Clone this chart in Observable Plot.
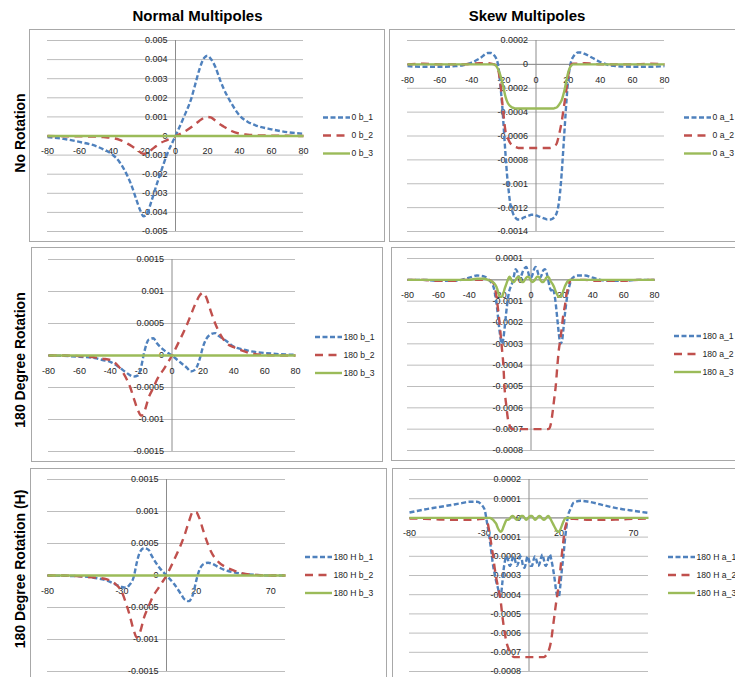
<!DOCTYPE html>
<html>
<head>
<meta charset="utf-8">
<script src="https://cdn.jsdelivr.net/npm/d3@7"></script>
<script src="https://cdn.jsdelivr.net/npm/@observablehq/plot@0.6"></script>
<style>
  html, body { margin: 0; padding: 0; background: #fff; }
  #root { position: relative; width: 735px; height: 677px; overflow: hidden; background: #fff;
          font-family: "Liberation Sans", Arial, sans-serif; }
  .panel { position: absolute; }
  .frame { position: absolute; border: 1px solid #a8a8a8; box-sizing: border-box; pointer-events: none; }
  .coltitle { position: absolute; font-weight: bold; font-size: 15px; white-space: nowrap;
              transform: translateX(-50%); color: #000; line-height: normal; }
  .rowtitle { position: absolute; font-weight: bold; font-size: 14px; white-space: nowrap; color: #000;
              transform: translate(-50%, -50%) rotate(-90deg); line-height: normal; }
</style>
</head>
<body>
<div id="root"></div>
<script>
// ---------- titles ----------
const columnTitles = ["Normal Multipoles", "Skew Multipoles"];
const rowTitles = ["No Rotation", "180 Degree Rotation", "180 Degree Rotation (H)"];

// ---------- tick labels ----------
const xTicksA = [-80, -60, -40, -20, 0, 20, 40, 60, 80];
const xTicksB = [-80, -30, 20, 70];
const yTicks1 = [0.005, 0.004, 0.003, 0.002, 0.001, 0, -0.001, -0.002, -0.003, -0.004, -0.005];
const yTicks2 = [0.0002, 0, -0.0002, -0.0004, -0.0006, -0.0008, -0.001, -0.0012, -0.0014];
const yTicks3 = [0.0015, 0.001, 0.0005, 0, -0.0005, -0.001, -0.0015];
const yTicks4 = [0.0001, 0, -0.0001, -0.0002, -0.0003, -0.0004, -0.0005, -0.0006, -0.0007, -0.0008];
const yTicks5 = [0.0015, 0.001, 0.0005, 0, -0.0005, -0.001, -0.0015];
const yTicks6 = [0.0002, 0.0001, 0, -0.0001, -0.0002, -0.0003, -0.0004, -0.0005, -0.0006, -0.0007, -0.0008];

// ---------- x positions ----------
const xCoarse = [-80,-70,-60,-50,-45,-40,-35,-30,-27,-25,-22,-20,-18,-15,-12,-10,-5,0,5,10,12,15,18,20,22,25,28,30,35,40,45,50,60,70,80];
const xFine = [-80,-70,-60,-50,-45,-40,-35,-30,-28,
  -26,-25,-24,-23,-22,-21,-20,-19,-18,-17,-16,-15,-14,
  -13,-12,-11,-10,-9,-8,-7,-6,-5,-4,-3,-2,-1,
  0,1,2,3,4,5,6,7,8,9,10,11,12,
  13,14,15,16,17,18,19,20,21,22,23,24,25,26,
  28,30,35,40,45,50,60,70,80];

// ---------- Panel 1: No Rotation, normal ----------
const p1_b1 = [-0.05e-3,-0.15e-3,-0.31e-3,-0.52e-3,-0.7e-3,-0.93e-3,-1.36e-3,-2.1e-3,-2.7e-3,-3.2e-3,-3.9e-3,-4.2e-3,-4.1e-3,-3.4e-3,-2.6e-3,-2.1e-3,-0.9e-3,0,0.95e-3,2.0e-3,2.6e-3,3.5e-3,4.1e-3,4.2e-3,4.05e-3,3.6e-3,2.9e-3,2.5e-3,1.7e-3,1.08e-3,0.75e-3,0.56e-3,0.35e-3,0.2e-3,0.12e-3];
const p1_b2 = [0,-0.01e-3,-0.02e-3,-0.03e-3,-0.06e-3,-0.1e-3,-0.2e-3,-0.4e-3,-0.55e-3,-0.66e-3,-0.85e-3,-0.93e-3,-0.9e-3,-0.72e-3,-0.52e-3,-0.4e-3,-0.2e-3,0,0.2e-3,0.47e-3,0.6e-3,0.8e-3,0.96e-3,1.0e-3,0.97e-3,0.8e-3,0.6e-3,0.5e-3,0.26e-3,0.12e-3,0.07e-3,0.04e-3,0.02e-3,0.01e-3,0];
const p1_b3 = [0,0,0,0,0,0,0,0,0,0,0,0,0,0,0,0,0,0,0,0,0,0,0,0,0,0,0,0,0,0,0,0,0,0,0];

// ---------- Panel 2: No Rotation, skew ----------
const p2_a1 = [-0.15e-4,-0.2e-4,-0.2e-4,-0.15e-4,-0.05e-4,0.15e-4,0.5e-4,0.95e-4,0.95e-4,
  0.75e-4,0.55e-4,0.2e-4,-0.6e-4,-2.0e-4,-3.5e-4,-5.5e-4,-7.5e-4,-9.3e-4,-10.6e-4,-11.7e-4,-12.2e-4,-12.6e-4,
  -12.8e-4,-12.95e-4,-13.0e-4,-13.0e-4,-12.95e-4,-12.85e-4,-12.8e-4,-12.75e-4,-12.7e-4,-12.65e-4,-12.6e-4,-12.6e-4,-12.6e-4,
  -12.65e-4,-12.7e-4,-12.75e-4,-12.8e-4,-12.85e-4,-12.9e-4,-12.95e-4,-13.0e-4,-13.0e-4,-13.0e-4,-12.95e-4,-12.85e-4,-12.7e-4,
  -12.4e-4,-11.8e-4,-10.7e-4,-9.1e-4,-7.1e-4,-5.0e-4,-3.0e-4,-1.3e-4,-0.3e-4,0.3e-4,0.6e-4,0.8e-4,0.9e-4,1.0e-4,
  1.0e-4,0.9e-4,0.55e-4,0.2e-4,-0.05e-4,-0.15e-4,-0.2e-4,-0.2e-4,-0.15e-4];
const p2_a2 = [0,0.05e-4,0,0,0,0.05e-4,0.1e-4,0.1e-4,0.05e-4,
  0,-0.1e-4,-0.3e-4,-0.8e-4,-1.8e-4,-3.2e-4,-4.5e-4,-5.6e-4,-6.0e-4,-6.35e-4,-6.6e-4,-6.75e-4,-6.85e-4,
  -6.9e-4,-6.95e-4,-7.0e-4,-7.0e-4,-7.0e-4,-7.0e-4,-7.0e-4,-7.0e-4,-7.0e-4,-7.0e-4,-7.0e-4,-7.0e-4,-7.0e-4,
  -7.0e-4,-7.0e-4,-7.0e-4,-7.0e-4,-7.0e-4,-7.0e-4,-7.0e-4,-7.0e-4,-7.0e-4,-7.0e-4,-6.95e-4,-6.9e-4,-6.8e-4,
  -6.6e-4,-6.1e-4,-5.5e-4,-4.8e-4,-3.9e-4,-3.0e-4,-2.0e-4,-1.0e-4,-0.3e-4,0,0.05e-4,0.05e-4,0.05e-4,0.05e-4,
  0.05e-4,0.1e-4,0.05e-4,0,0,0,0,0.05e-4,0];
const p2_a3 = [0,0,0,0,0,0,0,0,0,
  0,-0.1e-4,-0.3e-4,-0.6e-4,-1.0e-4,-1.5e-4,-2.1e-4,-2.7e-4,-3.1e-4,-3.35e-4,-3.5e-4,-3.6e-4,-3.65e-4,
  -3.7e-4,-3.7e-4,-3.7e-4,-3.7e-4,-3.7e-4,-3.7e-4,-3.7e-4,-3.7e-4,-3.7e-4,-3.7e-4,-3.7e-4,-3.7e-4,-3.7e-4,
  -3.7e-4,-3.7e-4,-3.7e-4,-3.7e-4,-3.7e-4,-3.7e-4,-3.7e-4,-3.7e-4,-3.7e-4,-3.7e-4,-3.7e-4,-3.7e-4,-3.65e-4,
  -3.6e-4,-3.45e-4,-3.25e-4,-3.0e-4,-2.55e-4,-2.0e-4,-1.3e-4,-0.7e-4,-0.3e-4,-0.1e-4,0,0,0,0,
  0,0,0,0,0,0,0,0,0];

// ---------- Panel 3: 180 Degree Rotation, normal ----------
const p3_b1 = [0,-0.05e-4,-0.2e-4,-0.4e-4,-0.7e-4,-1.0e-4,-1.7e-4,-2.6e-4,-3.1e-4,-3.3e-4,-3.1e-4,-1.8e-4,0.5e-4,2.5e-4,2.7e-4,2.0e-4,0.8e-4,0,-1.0e-4,-2.0e-4,-2.5e-4,-2.2e-4,-0.5e-4,1.3e-4,2.5e-4,3.3e-4,3.5e-4,3.1e-4,2.3e-4,1.4e-4,1.0e-4,0.7e-4,0.4e-4,0.2e-4,0.1e-4];
const p3_b2 = [0,0,-0.1e-4,-0.3e-4,-0.5e-4,-0.7e-4,-1.6e-4,-3.4e-4,-5.0e-4,-6.5e-4,-8.6e-4,-9.4e-4,-8.8e-4,-6.5e-4,-5.0e-4,-3.9e-4,-2.0e-4,0,2.4e-4,5.0e-4,6.2e-4,8.0e-4,9.4e-4,9.8e-4,9.2e-4,7.0e-4,5.0e-4,3.9e-4,2.0e-4,1.3e-4,0.8e-4,0.4e-4,0.1e-4,0,0];
const p3_b3 = [0,0,0,0,0,0,0,0,0,0,0,0,0,0,0,0,0,0,0,0,0,0,0,0,0,0,0,0,0,0,0,0,0,0,0];

// ---------- Panel 4: 180 Degree Rotation, skew ----------
const p4_a1 = [0,0,-0.05e-4,-0.05e-4,0,0.1e-4,0.2e-4,0.15e-4,0.05e-4,
  -0.1e-4,-0.2e-4,-0.4e-4,-0.8e-4,-1.3e-4,-2.0e-4,-2.6e-4,-3.0e-4,-2.8e-4,-2.2e-4,-1.5e-4,-0.9e-4,-0.5e-4,
  -0.3e-4,-0.1e-4,0.2e-4,0.5e-4,0.4e-4,0.15e-4,0.05e-4,0.25e-4,0.45e-4,0.55e-4,0.6e-4,0.4e-4,0.15e-4,
  0.1e-4,0.25e-4,0.5e-4,0.6e-4,0.45e-4,0.2e-4,0.1e-4,0.25e-4,0.45e-4,0.5e-4,0.35e-4,0.05e-4,-0.3e-4,
  -0.5e-4,-0.4e-4,-0.6e-4,-1.1e-4,-1.8e-4,-2.5e-4,-3.0e-4,-2.9e-4,-2.3e-4,-1.6e-4,-1.0e-4,-0.55e-4,-0.25e-4,0,
  0.15e-4,0.2e-4,0.2e-4,0.1e-4,0,-0.05e-4,-0.05e-4,0,0];
const p4_a2 = [0,0,-0.05e-4,-0.05e-4,0,0,0,0,0,
  -0.05e-4,-0.1e-4,-0.2e-4,-0.5e-4,-1.0e-4,-1.6e-4,-2.3e-4,-3.1e-4,-3.9e-4,-5.2e-4,-5.9e-4,-6.5e-4,-6.8e-4,
  -6.95e-4,-7.0e-4,-7.0e-4,-7.0e-4,-7.0e-4,-7.0e-4,-7.0e-4,-7.0e-4,-7.0e-4,-7.0e-4,-7.0e-4,-7.0e-4,-7.0e-4,
  -7.0e-4,-7.0e-4,-7.0e-4,-7.0e-4,-7.0e-4,-7.0e-4,-7.0e-4,-7.0e-4,-7.0e-4,-7.0e-4,-7.0e-4,-7.0e-4,-6.95e-4,
  -6.7e-4,-6.2e-4,-5.6e-4,-5.0e-4,-4.1e-4,-3.3e-4,-2.8e-4,-2.2e-4,-1.6e-4,-1.2e-4,-0.7e-4,-0.35e-4,-0.1e-4,0,
  0,0,0,-0.05e-4,-0.05e-4,-0.05e-4,-0.05e-4,0,0];
const p4_a3 = [0,0,0,0,0,0,0.05e-4,0.05e-4,0,
  -0.05e-4,-0.1e-4,-0.15e-4,-0.25e-4,-0.4e-4,-0.65e-4,-0.8e-4,-0.8e-4,-0.65e-4,-0.4e-4,-0.2e-4,0,0.15e-4,
  0.05e-4,-0.1e-4,-0.1e-4,0,0.1e-4,0.15e-4,0.05e-4,-0.1e-4,-0.1e-4,0,0.1e-4,0.15e-4,0.1e-4,
  -0.05e-4,-0.1e-4,-0.05e-4,0.05e-4,0.15e-4,0.15e-4,0,-0.1e-4,-0.1e-4,0,0.1e-4,0.15e-4,0.05e-4,
  -0.1e-4,-0.2e-4,-0.35e-4,-0.55e-4,-0.7e-4,-0.8e-4,-0.8e-4,-0.7e-4,-0.5e-4,-0.3e-4,-0.15e-4,-0.05e-4,0,0,
  0,0,0,0,0,0,0,0,0];

// ---------- Panel 5: 180 Degree Rotation (H), normal ----------
const p5_b1 = [0,-0.05e-4,-0.1e-4,-0.3e-4,-0.5e-4,-0.8e-4,-1.3e-4,-1.8e-4,-1.9e-4,-1.5e-4,-0.2e-4,2.0e-4,3.6e-4,4.3e-4,4.0e-4,3.1e-4,1.3e-4,0,-1.3e-4,-3.0e-4,-3.7e-4,-4.0e-4,-2.8e-4,-0.8e-4,0.8e-4,1.8e-4,2.0e-4,1.9e-4,1.3e-4,0.8e-4,0.5e-4,0.3e-4,0.1e-4,0,0];
const p5_b2 = [0,0,-0.1e-4,-0.3e-4,-0.4e-4,-0.6e-4,-1.2e-4,-2.6e-4,-4.5e-4,-6.0e-4,-8.6e-4,-9.7e-4,-9.0e-4,-6.5e-4,-4.8e-4,-3.7e-4,-1.8e-4,0,2.4e-4,5.0e-4,6.2e-4,8.4e-4,10.0e-4,9.9e-4,9.0e-4,6.8e-4,4.8e-4,3.7e-4,2.1e-4,1.3e-4,0.8e-4,0.4e-4,0.1e-4,0,0];
const p5_b3 = [0,0,0,0,0,0,0,0,0,0,0,0,0,0,0,0,0,0,0,0,0,0,0,0,0,0,0,0,0,0,0,0,0,0,0];

// ---------- Panel 6: 180 Degree Rotation (H), skew ----------
const p6_a1 = [0.28e-4,0.44e-4,0.57e-4,0.7e-4,0.77e-4,0.84e-4,0.84e-4,0.49e-4,-0.3e-4,
  -1.3e-4,-1.9e-4,-2.5e-4,-2.9e-4,-3.3e-4,-3.6e-4,-3.9e-4,-4.1e-4,-3.5e-4,-2.7e-4,-2.2e-4,-2.0e-4,-2.2e-4,
  -2.5e-4,-2.4e-4,-2.1e-4,-2.0e-4,-2.3e-4,-2.5e-4,-2.3e-4,-2.0e-4,-2.1e-4,-2.5e-4,-2.6e-4,-2.3e-4,-2.0e-4,
  -2.2e-4,-2.5e-4,-2.5e-4,-2.2e-4,-2.0e-4,-2.2e-4,-2.5e-4,-2.4e-4,-2.1e-4,-1.9e-4,-2.2e-4,-2.5e-4,-2.4e-4,
  -2.1e-4,-1.9e-4,-2.2e-4,-2.6e-4,-3.1e-4,-3.7e-4,-4.1e-4,-4.1e-4,-3.5e-4,-2.7e-4,-2.0e-4,-1.2e-4,-0.5e-4,0.05e-4,
  0.5e-4,0.8e-4,0.89e-4,0.84e-4,0.76e-4,0.66e-4,0.49e-4,0.37e-4,0.26e-4];
const p6_a2 = [-0.03e-4,-0.05e-4,-0.08e-4,-0.1e-4,-0.1e-4,-0.1e-4,-0.08e-4,-0.05e-4,-0.2e-4,
  -1.0e-4,-1.5e-4,-2.0e-4,-2.6e-4,-3.1e-4,-3.5e-4,-3.9e-4,-4.3e-4,-5.0e-4,-5.6e-4,-6.1e-4,-6.5e-4,-6.75e-4,
  -6.95e-4,-7.1e-4,-7.2e-4,-7.25e-4,-7.25e-4,-7.25e-4,-7.25e-4,-7.25e-4,-7.25e-4,-7.25e-4,-7.25e-4,-7.25e-4,-7.25e-4,
  -7.25e-4,-7.25e-4,-7.25e-4,-7.25e-4,-7.25e-4,-7.25e-4,-7.25e-4,-7.25e-4,-7.25e-4,-7.25e-4,-7.25e-4,-7.2e-4,-7.1e-4,
  -6.95e-4,-6.7e-4,-6.3e-4,-5.7e-4,-5.1e-4,-4.5e-4,-4.0e-4,-3.4e-4,-2.7e-4,-1.9e-4,-1.2e-4,-0.6e-4,-0.3e-4,-0.1e-4,
  -0.05e-4,-0.05e-4,-0.08e-4,-0.1e-4,-0.1e-4,-0.1e-4,-0.08e-4,-0.05e-4,-0.03e-4];
const p6_a3 = [0,0,0,0,0,0,0,0,0,
  0,-0.05e-4,-0.1e-4,-0.2e-4,-0.3e-4,-0.5e-4,-0.65e-4,-0.72e-4,-0.65e-4,-0.45e-4,-0.25e-4,-0.1e-4,-0.1e-4,
  -0.05e-4,0.05e-4,0.1e-4,0.05e-4,-0.05e-4,-0.1e-4,-0.05e-4,0.05e-4,0.1e-4,0.1e-4,0,-0.1e-4,-0.05e-4,
  0.05e-4,0.1e-4,0.1e-4,0,-0.1e-4,-0.05e-4,0.05e-4,0.1e-4,0.05e-4,-0.05e-4,-0.1e-4,-0.05e-4,0.05e-4,
  0.1e-4,0,-0.15e-4,-0.3e-4,-0.45e-4,-0.6e-4,-0.7e-4,-0.72e-4,-0.6e-4,-0.4e-4,-0.2e-4,-0.05e-4,0,0,
  0,0,0,0,0,0,0,0,0];

// ---------- legend names ----------
const names1 = ["0 b_1", "0 b_2", "0 b_3"];
const names2 = ["0 a_1", "0 a_2", "0 a_3"];
const names3 = ["180 b_1", "180 b_2", "180 b_3"];
const names4 = ["180 a_1", "180 a_2", "180 a_3"];
const names5 = ["180 H b_1", "180 H b_2", "180 H b_3"];
const names6 = ["180 H a_1", "180 H a_2", "180 H a_3"];

// ---------- styles ----------
const seriesColors = ["#4F81BD", "#C0504D", "#9BBB59"];
const seriesDashes = ["5,2.5", "8,5.5", null];
const LINE_W = 2.4;

const root = document.getElementById("root");

function addPanel(cfg) {
  const W = cfg.box.r - cfg.box.l, H = cfg.box.b - cfg.box.t;
  const marks = [
    Plot.ruleY(cfg.yTicks, {stroke: "#bdbdbd", strokeWidth: 1}),
    Plot.ruleX([0], {stroke: "#8c8c8c", strokeWidth: 1}),
    Plot.ruleY([0], {stroke: "#8c8c8c", strokeWidth: 1}),
    Plot.text(cfg.yTicks, {x: 0, y: d => d, text: d => String(d), textAnchor: "end", dx: -8, fill: "#1e1e1e"}),
    Plot.text(cfg.xTicks, {x: d => d, y: 0, text: d => String(d), dy: 15.5, fill: "#1e1e1e"})
  ];
  cfg.series.forEach((vals, k) => {
    const rows = vals.map((v, i) => ({x: cfg.x[i], y: v}));
    marks.push(Plot.line(rows, {
      x: "x", y: "y", curve: "monotone-x",
      stroke: seriesColors[k], strokeWidth: LINE_W,
      strokeDasharray: seriesDashes[k] || undefined, strokeLinecap: "butt"
    }));
  });
  const chart = Plot.plot({
    width: W, height: H,
    marginLeft: cfg.plot.l - cfg.box.l, marginRight: cfg.box.r - cfg.plot.r,
    marginTop: cfg.plot.t - cfg.box.t, marginBottom: cfg.box.b - cfg.plot.b,
    x: {domain: [-80, 80], axis: null},
    y: {domain: [cfg.yTicks[cfg.yTicks.length - 1], cfg.yTicks[0]], axis: null},
    style: {background: "#fff", fontFamily: "'Liberation Sans', Arial, sans-serif", fontSize: "9px", overflow: "visible", maxWidth: "none"},
    marks
  });
  // legend (drawn into the same svg)
  const svg = d3.select(chart);
  const lg = svg.append("g").attr("text-anchor", "start");
  const lx = cfg.plot.r - cfg.box.l + 20;
  const ly = (cfg.plot.t + cfg.plot.b) / 2 - cfg.box.t;
  cfg.names.forEach((nm, k) => {
    const y = ly + (k - 1) * 18;
    lg.append("line").attr("x1", lx).attr("x2", lx + 27).attr("y1", y).attr("y2", y)
      .attr("stroke", seriesColors[k]).attr("stroke-width", LINE_W)
      .attr("stroke-dasharray", seriesDashes[k] || null);
    lg.append("text").attr("x", lx + 28.5).attr("y", y).attr("dy", "0.34em")
      .attr("text-anchor", "start")
      .attr("fill", "#1e1e1e").style("font-size", "8.6px").text(nm);
  });
  const wrap = document.createElement("div");
  wrap.className = "panel";
  wrap.style.left = cfg.box.l + "px"; wrap.style.top = cfg.box.t + "px";
  wrap.style.width = W + "px"; wrap.style.height = H + "px";
  wrap.appendChild(chart);
  root.appendChild(wrap);
  const fr = document.createElement("div");
  fr.className = "frame";
  fr.style.left = cfg.box.l + "px"; fr.style.top = cfg.box.t + "px";
  fr.style.width = W + "px"; fr.style.height = H + "px";
  root.appendChild(fr);
}

addPanel({box: {l: 29, t: 29, r: 385, b: 242}, plot: {l: 47, t: 40, r: 303, b: 231},
  x: xCoarse, series: [p1_b1, p1_b2, p1_b3], names: names1, xTicks: xTicksA, yTicks: yTicks1});
addPanel({box: {l: 389, t: 29, r: 745, b: 242}, plot: {l: 407, t: 40, r: 664, b: 231},
  x: xFine, series: [p2_a1, p2_a2, p2_a3], names: names2, xTicks: xTicksA, yTicks: yTicks2});
addPanel({box: {l: 31, t: 247, r: 383, b: 462}, plot: {l: 48, t: 259, r: 295, b: 451},
  x: xCoarse, series: [p3_b1, p3_b2, p3_b3], names: names3, xTicks: xTicksA, yTicks: yTicks3});
addPanel({box: {l: 391, t: 247, r: 745, b: 461}, plot: {l: 407, t: 258, r: 654, b: 450},
  x: xFine, series: [p4_a1, p4_a2, p4_a3], names: names4, xTicks: xTicksA, yTicks: yTicks4});
addPanel({box: {l: 30, t: 468, r: 387, b: 690}, plot: {l: 47, t: 479, r: 285, b: 671},
  x: xCoarse, series: [p5_b1, p5_b2, p5_b3], names: names5, xTicks: xTicksB, yTicks: yTicks5});
addPanel({box: {l: 392, t: 468, r: 745, b: 690}, plot: {l: 409, t: 479, r: 648, b: 671},
  x: xFine, series: [p6_a1, p6_a2, p6_a3], names: names6, xTicks: xTicksB, yTicks: yTicks6});

// column titles
[[197.5, columnTitles[0]], [527, columnTitles[1]]].forEach(([cx, t]) => {
  const d = document.createElement("div");
  d.className = "coltitle"; d.textContent = t;
  d.style.left = cx + "px"; d.style.top = "7px";
  root.appendChild(d);
});
// row titles
[[132.5, rowTitles[0]], [360, rowTitles[1]], [569, rowTitles[2]]].forEach(([cy, t]) => {
  const d = document.createElement("div");
  d.className = "rowtitle"; d.textContent = t;
  d.style.left = "20px"; d.style.top = cy + "px";
  root.appendChild(d);
});
</script>
</body>
</html>
